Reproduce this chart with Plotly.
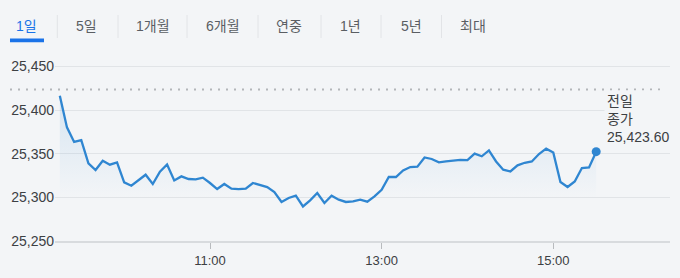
import pandas as pd
import plotly.graph_objects as go

# ---- data ----
times = pd.date_range("2025-01-01 09:15", "2025-01-01 15:30", freq="5min")
values = [
    25416.4, 25380.1, 25363.4, 25365.6, 25338.9, 25331.3, 25341.9, 25337.4, 25340.0, 25317.1,
    25313.3, 25319.4, 25325.9, 25315.3, 25329.3, 25337.7, 25319.4, 25324.0, 25321.0, 25320.5,
    25322.5, 25316.4, 25309.5, 25315.3, 25309.9, 25309.5, 25309.9, 25316.4, 25314.5, 25311.8,
    25306.1, 25294.7, 25299.2, 25301.9, 25289.6, 25296.6, 25305.0, 25293.5, 25301.9, 25297.3,
    25294.7, 25295.4, 25297.3, 25295.0, 25301.1, 25308.7, 25323.3, 25323.3, 25330.8, 25334.7,
    25335.1, 25345.7, 25343.9, 25340.0, 25341.1, 25342.2, 25342.8, 25342.6, 25350.0, 25347.0,
    25353.7, 25341.1, 25331.6, 25329.7, 25336.6, 25339.6, 25341.1, 25349.6, 25355.7, 25351.4,
    25317.6, 25311.8, 25318.2, 25333.6, 25334.3, 25352.3,
]
prev_close = 25423.60
prev_close_label = ["전일", "종가", "25,423.60"]
y_ticks = [25250, 25300, 25350, 25400, 25450]
y_tick_text = ["25,250", "25,300", "25,350", "25,400", "25,450"]
x_ticks = ["2025-01-01 11:00", "2025-01-01 13:00", "2025-01-01 15:00"]
x_tick_text = ["11:00", "13:00", "15:00"]
tabs = ["1일", "5일", "1개월", "6개월", "연중", "1년", "5년", "최대"]

# ---- style ----
BG = "#f3f5f7"
LINE = "#2f86d1"
BLUE = "#1a73e8"
GRID = "#e1e4e7"
FONT = "Arial, 'Liberation Sans', 'Noto Sans CJK KR', sans-serif"
W, H = 680, 278
L, R, T, B = 55, 10, 60, 37
PW, PH = W - L - R, H - T - B


def px_x(px):
    return (px - L) / PW


def px_y(py):
    return 1 - (py - T) / PH


fig = go.Figure()

fig.add_trace(go.Scatter(
    x=times, y=values, mode="lines",
    line=dict(color=LINE, width=2.3),
    fill="tozeroy",
    fillgradient=dict(
        type="vertical",
        colorscale=[[0, "rgba(47,134,209,0)"], [1, "rgba(47,134,209,0.15)"]],
        start=25300, stop=25420,
    ),
    hoverinfo="skip", showlegend=False,
))
fig.add_trace(go.Scatter(
    x=[times[-1]], y=[values[-1]], mode="markers",
    marker=dict(color=LINE, size=9),
    hoverinfo="skip", showlegend=False,
))

# previous close dotted line
fig.add_shape(type="line", xref="paper", yref="y",
              x0=px_x(10), x1=px_x(664), y0=prev_close, y1=prev_close,
              line=dict(color="#b3b6b9", width=2, dash="2px,6px"))

# previous close label
fig.add_annotation(xref="paper", yref="paper", x=px_x(604), y=px_y(90),
                   xanchor="left", yanchor="top", align="left", showarrow=False,
                   text="<br>".join(prev_close_label),
                   font=dict(size=14, color="#3c4043", family=FONT),
                   bgcolor=BG, borderpad=2)

# tabs
tab_centers = [26.7, 86.7, 152.5, 223, 289, 350, 411, 472.5]
for i, (t, cx) in enumerate(zip(tabs, tab_centers)):
    fig.add_annotation(xref="paper", yref="paper", x=px_x(cx), y=px_y(26.5),
                       xanchor="center", yanchor="middle", showarrow=False,
                       text=t, font=dict(size=14, color=BLUE if i == 0 else "#5a5e63", family=FONT))
for sx in [57.3, 118, 187, 258, 321, 381, 441.5]:
    fig.add_shape(type="line", xref="paper", yref="paper",
                  x0=px_x(sx), x1=px_x(sx), y0=px_y(15), y1=px_y(38),
                  line=dict(color="#e2e4e7", width=1))
fig.add_shape(type="rect", xref="paper", yref="paper",
              x0=px_x(10), x1=px_x(44), y0=px_y(42.3), y1=px_y(38.5),
              fillcolor=BLUE, line=dict(width=0))

fig.update_layout(
    width=W, height=H,
    margin=dict(l=L, r=R, t=T, b=B),
    paper_bgcolor=BG, plot_bgcolor=BG,
    font=dict(family=FONT, size=13, color="#3c4043"),
    xaxis=dict(
        type="date",
        range=["2025-01-01 09:11:38", "2025-01-01 16:21:36"],
        tickvals=x_ticks, ticktext=x_tick_text,
        showgrid=False, zeroline=False,
        showline=True, linecolor="#d8dbde", linewidth=2,
        ticks="outside", ticklen=6, tickcolor="#b8bbbe", tickwidth=1,
        tickfont=dict(size=13, color="#3c4043"),
        fixedrange=True,
    ),
    yaxis=dict(
        range=[25250, 25250 + PH / 0.8733],
        tickvals=y_ticks, ticktext=y_tick_text,
        showgrid=True, gridcolor=GRID, gridwidth=1,
        zeroline=False, showline=False, ticks="",
        tickfont=dict(size=14, color="#3c4043"),
        fixedrange=True,
    ),
)

fig.write_html("out.html", config={"displayModeBar": False})
